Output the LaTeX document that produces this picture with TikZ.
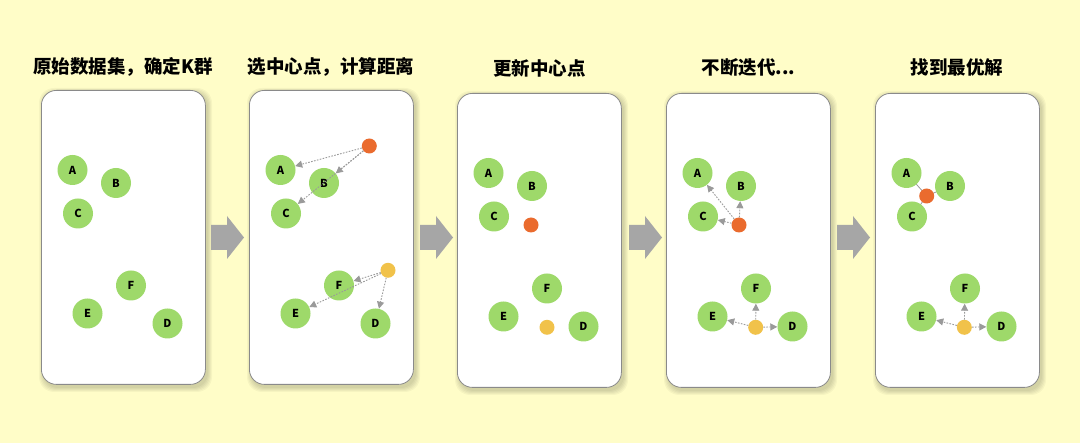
\documentclass[tikz,border=0pt]{standalone}
\usepackage{fontspec}
\newfontfamily\cjk{Noto Sans CJK SC}
\usetikzlibrary{arrows.meta}
\definecolor{bgyellow}{HTML}{FFFDC8}
\definecolor{ptgreen}{HTML}{9ED96A}
\definecolor{ctrorange}{HTML}{EA6B2E}
\definecolor{ctryellow}{HTML}{F1C24A}
\definecolor{arrgray}{HTML}{9A9A9A}
\definecolor{boxgray}{HTML}{8A8A8A}
\definecolor{bigarrgray}{HTML}{A6A6A6}
\pgfdeclarelayer{back}
\pgfdeclarelayer{mid}
\pgfsetlayers{back,mid,main}
\tikzset{
  pt/.style={circle, fill=ptgreen, minimum size=30pt, inner sep=0pt,
    font=\cjk\bfseries\fontsize{11}{11}\selectfont},
  ctr/.style={circle, minimum size=15pt, inner sep=0pt},
  dist/.style={draw=arrgray, line width=0.9pt, dash pattern=on 1.6pt off 1.4pt,
    -{Triangle[length=7pt,width=7pt]}},
  link/.style={draw=arrgray, line width=0.8pt},
  panel/.style={draw=boxgray, fill=white, rounded corners=15pt, line width=0.8pt,
    minimum width=164pt, minimum height=294pt, anchor=north west, inner sep=0pt},
  title/.style={font=\cjk\bfseries\fontsize{18.5}{18.5}\selectfont, inner sep=0pt},
  bigarrow/.style={fill=bigarrgray}
}
\newcommand\mkpanel[3]{% name, left, top
  \begin{pgfonlayer}{back}
    \foreach \e in {0,1,2,3,4}{
      \fill[black, opacity=0.035, rounded corners=15pt]
        ({#2+2-\e},{#3+2-\e}) rectangle ({#2+164+3+\e},{#3+294+4+\e});
    }
    \node[panel] (#1) at (#2,#3) {};
  \end{pgfonlayer}}
\newcommand\mkpoints[3]{% prefix, left, top
  \begin{scope}[shift={(#2,#3)}]
    \node[pt] (#1A) at (31.5,80) {A};
    \node[pt] (#1B) at (75,93) {B};
    \node[pt] (#1C) at (37,123.5) {C};
    \node[pt] (#1F) at (90,195.5) {F};
    \node[pt] (#1E) at (46.5,223.5) {E};
    \node[pt] (#1D) at (126.5,233.5) {D};
  \end{scope}}
\newcommand\mkbigarrow[2]{% name, left
  \fill[bigarrow] (#2,225) -- ({#2+16},225) -- ({#2+16},216) -- ({#2+33},237.5)
    -- ({#2+16},259) -- ({#2+16},250) -- (#2,250) -- cycle;
  \coordinate (#1) at ({#2+16},237.5);}
\begin{document}
\begin{tikzpicture}[x=1pt,y=-1pt]
\begin{pgfonlayer}{back}
  \fill[bgyellow] (0,0) rectangle (1080,443);
\end{pgfonlayer}
\useasboundingbox (0,0) rectangle (1080,443);

% panels
\mkpanel{box1}{41}{90}
\mkpanel{box2}{249}{90}
\mkpanel{box3}{457}{93}
\mkpanel{box4}{666}{93}
\mkpanel{box5}{875}{93}

% titles
\node[title] (t1) at (123,67) {原始数据集，确定K群};
\node[title] (t2) at (331,67) {选中心点，计算距离};
\node[title] (t3) at (539.5,68) {更新中心点};
\node[title] (t4) at (748.5,68) {不断迭代...};
\node[title] (t5) at (957,68) {找到最优解};

% points
\mkpoints{p1}{41}{90}
\mkpoints{p2}{249}{90}
\mkpoints{p3}{457}{93}
\mkpoints{p4}{666}{93}
\mkpoints{p5}{875}{93}

% panel 2 centroids and distances
\node[ctr, fill=ctrorange] (p2o) at (369.3,146) {};
\node[ctr, fill=ctryellow] (p2y) at (388,270.3) {};
\draw[dist] (p2o) -- (p2A);
\draw[dist] (p2o) -- (p2B);
\draw[dist] (p2o) -- (p2C);
\draw[dist] (p2y) -- (p2F);
\draw[dist] (p2y) -- (p2E);
\draw[dist] (p2y) -- (p2D);

% panel 3 centroids
\node[ctr, fill=ctrorange] (p3o) at (531,225) {};
\node[ctr, fill=ctryellow] (p3y) at (547,327.3) {};

% panel 4 centroids and distances
\node[ctr, fill=ctrorange] (p4o) at (739,225) {};
\node[ctr, fill=ctryellow] (p4y) at (755.7,327.3) {};
\draw[dist] (p4o) -- (p4A);
\draw[dist] (p4o) -- (p4B);
\draw[dist] (p4o) -- (p4C);
\draw[dist] (p4y) -- (p4F);
\draw[dist] (p4y) -- (p4E);
\draw[dist] (p4y) -- (p4D);

% panel 5 centroids
\node[ctr, fill=ctrorange] (p5o) at (926.7,196) {};
\node[ctr, fill=ctryellow] (p5y) at (964.3,327.3) {};
\begin{pgfonlayer}{mid}
  \draw[link] (p5o.center) -- (p5A.center);
  \draw[link] (p5o.center) -- (p5B.center);
  \draw[link] (p5o.center) -- (p5C.center);
\end{pgfonlayer}
\draw[dist] (p5y) -- (p5F);
\draw[dist] (p5y) -- (p5E);
\draw[dist] (p5y) -- (p5D);

% big arrows between panels
\mkbigarrow{a1}{211}
\mkbigarrow{a2}{420}
\mkbigarrow{a3}{629}
\mkbigarrow{a4}{837}
\end{tikzpicture}
\end{document}
